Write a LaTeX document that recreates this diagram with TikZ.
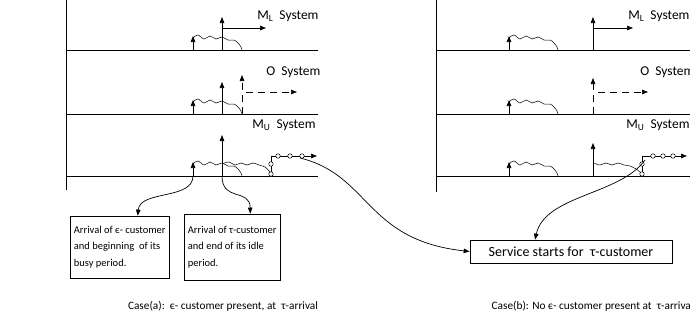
\documentclass[tikz,border=0pt]{standalone}
\usepackage{fontspec}
\setmainfont{Carlito}
\usetikzlibrary{arrows.meta,positioning}
\begin{document}
\begin{tikzpicture}[x=1pt,y=-1pt,line width=0.7pt,
    arr/.style={-{Triangle[length=6pt,width=4.5pt]}},
    dsh/.style={dash pattern=on 7pt off 5pt},
    busy/.style={line width=0.5pt},
    dot/.style={circle,draw,fill=white,line width=0.5pt,inner sep=0pt,minimum size=4.5pt},
    syslabel/.style={anchor=west,inner sep=0pt,font=\fontsize{13.5}{16}\selectfont},
    notebox/.style={draw,align=left,anchor=west,inner xsep=3.5pt,font=\fontsize{10.5}{16.5}\selectfont},
    case/.style={font=\fontsize{11.3}{14}\selectfont}]
  \useasboundingbox (0,0) rectangle (690,324);

  % time axes
  \draw (66,0) -- (66,190);
  \draw (436,0) -- (436,192);
  \foreach \y in {50,114,176} {
    \draw (66,\y) -- (318,\y);
    \draw (436,\y) -- (690,\y);
  }
  % eps-arrivals and their busy periods
  \foreach \x in {193,509}
    \foreach \y in {50,114,176} {
      \draw[arr] (\x,\y) -- (\x,\y-14);
      \draw[busy,shift={(\x,\y)}] plot[smooth,tension=0.6] coordinates {(0,-12) (5,-15) (11,-11) (17,-14) (23,-11) (29,-13) (35,-10) (41,-10) (45,-7) (48,-3) (49,0)};
    }

  % case (a)
  \draw[arr] (222,50) -- (222,17);
  \draw[arr] (222,28) -- (266,28);
  \node[syslabel] (mlA) at (257,16) {M\textsubscript{L}\ \ System};
  \draw[arr] (222,114) -- (222,82);
  \draw[arr,dsh] (242,114) -- (242,75);
  \draw[arr,dsh] (246,92) -- (297,92);
  \node[syslabel] (oA) at (266,72) {O\ \ System};
  \draw[arr] (222,176) -- (222,135);
  \draw[busy] plot[smooth,tension=0.6] coordinates {(222,164) (229,162) (235,165) (241,163) (247,165) (253,163) (259,165) (265,167) (269,171) (271,174)};
  \draw (271,174) -- (271,156);
  \draw[arr] (271,156) -- (317,156);
  \foreach \px/\py in {271/164,271/174,278/156,290/156,302/156}
    \node[dot] at (\px,\py) {};
  \node[syslabel] (muA) at (252,125) {M\textsubscript{U}\ \ System};
  \coordinate (epsA) at (193,176);
  \coordinate (tauA) at (222,176);
  \coordinate (goA) at (300,158);

  % case (b)
  \draw[arr] (593,50) -- (593,17);
  \draw[arr] (593,28) -- (633,28);
  \node[syslabel] (mlB) at (628,16) {M\textsubscript{L}\ \ System};
  \draw[arr,dsh] (593,114) -- (593,78);
  \draw[arr,dsh] (598,92) -- (648,92);
  \node[syslabel] (oB) at (640,72) {O\ \ System};
  \draw[arr] (593,176) -- (593,143);
  \draw[busy] plot[smooth,tension=0.6] coordinates {(594,163) (600,165) (606,163) (612,165) (618,163) (624,165) (630,166) (636,169) (640,172) (642,174)};
  \draw (642,174) -- (642,156);
  \draw[arr] (642,156) -- (687,156);
  \foreach \px/\py in {642/164,642/174,653/156,663/156,673/156}
    \node[dot] at (\px,\py) {};
  \node[syslabel] (muB) at (626,125) {M\textsubscript{U}\ \ System};
  \coordinate (goB) at (645,160);

  % boxes
  \node[notebox,minimum height=62pt] (epsbox) at (70,247) {Arrival of є- customer\\and beginning\ \ of its\\busy period.};
  \node[notebox,minimum height=66pt] (taubox) at (184,247) {Arrival of τ-customer\\and end of its idle\\period.};
  \node[draw,minimum width=202pt,minimum height=23pt,font=\fontsize{14}{16}\selectfont] (srv) at (571,251.5) {Service starts for\ \ τ-customer};

  \draw[arr] (epsA) .. controls (193,200) and (140,190) .. ([xshift=18pt]epsbox.north);
  \draw[arr] (tauA) .. controls (222,202) and (250,188) .. ([xshift=18pt]taubox.north);
  \draw[arr] (goA) .. controls (370,175) and (365,240) .. (srv.west);
  \draw[arr] (goB) .. controls (620,195) and (545,195) .. ([xshift=-36pt]srv.north);

  % captions
  \node[case] (capA) at (223,306) {Case(a):\ \ є- customer present, at\ \ τ-arrival};
  \node[case,anchor=west] (capB) at (488,306) {Case(b): No є- customer present at\ \ τ-arrival};
\end{tikzpicture}
\end{document}
